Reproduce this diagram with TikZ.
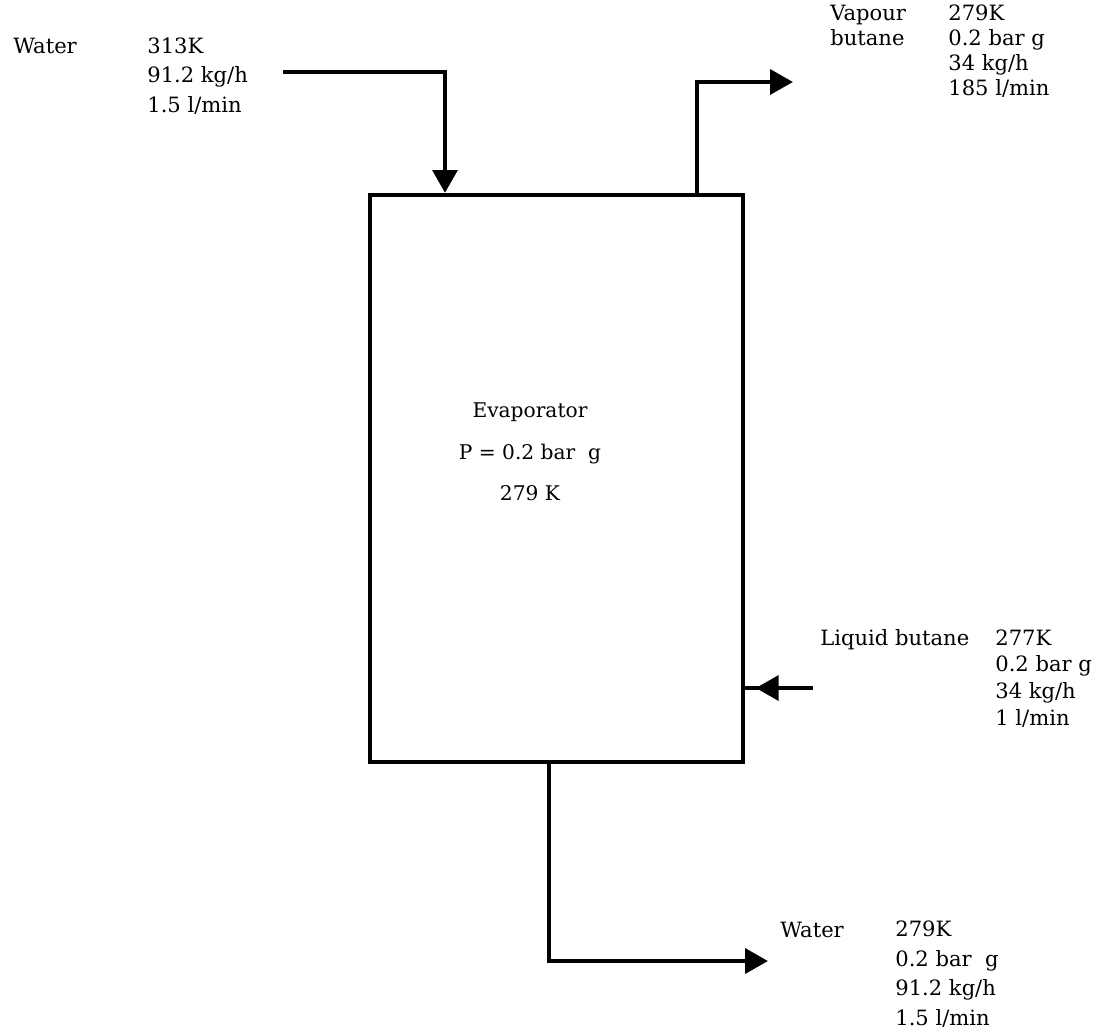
\documentclass[tikz,border=0pt]{standalone}
\usepackage{fontspec}
\setmainfont{DejaVu Serif}
\usetikzlibrary{arrows.meta}

\begin{document}
\begin{tikzpicture}[x=0.02cm, y=-0.02cm,
  pipe/.style={line width=2.5pt, -{Triangle[length=13pt, width=14pt]}},
  wall/.style={line width=2.5pt},
  lbl/.style={anchor=base west, align=left, inner sep=0pt, font=\fontsize{12}{#1}\selectfont},
  lbl/.default=14.2pt]
  \useasboundingbox (0,0) rectangle (1099,1035);

  % evaporator vessel
  \node[draw, wall, minimum width=7.46cm, minimum height=11.34cm, inner sep=0pt] (evap) at (556.5,478.5) {};
  \node[align=center, font=\fontsize{11.5}{23.5}\selectfont] (evaptxt) at (530,452)
    {Evaporator\\P = 0.2 bar~~g\\279 K};

  % streams
  \coordinate (wi) at (283,72);
  \coordinate (wix) at (445,0);
  \coordinate (vox) at (697,0);
  \coordinate (vo) at (793,82);
  \coordinate (lb) at (813,688);
  \coordinate (wox) at (549,0);
  \coordinate (wo) at (768,961);

  \draw[pipe] (wi) -| (evap.north -| wix);
  \draw[pipe] (evap.north -| vox) |- (vo);
  \draw[pipe, shorten >=6pt] (lb) -- (lb -| evap.east);
  \draw[wall] (lb -| evap.east) -- ++(14,0);
  \draw[pipe] (evap.south -| wox) |- (wo);

  % labels (anchored at the baseline of the last line)
  \node[lbl] (winame) at (13,53) {Water};
  \node[lbl=16.7pt] (widata) at (147,112) {313K\\91.2 kg/h\\1.5 l/min};
  \node[lbl] (voname) at (830,45) {Vapour\\butane};
  \node[lbl] (vodata) at (948,95) {279K\\0.2 bar g\\34 kg/h\\185 l/min};
  \node[lbl] (lbname) at (820,645) {Liquid butane};
  \node[lbl=15.1pt] (lbdata) at (995,725) {277K\\0.2 bar g\\34 kg/h\\1 l/min};
  \node[lbl] (woname) at (780,937) {Water};
  \node[lbl=16.7pt] (wodata) at (895,1025) {279K\\0.2 bar~~g\\91.2 kg/h\\1.5 l/min};
\end{tikzpicture}
\end{document}
